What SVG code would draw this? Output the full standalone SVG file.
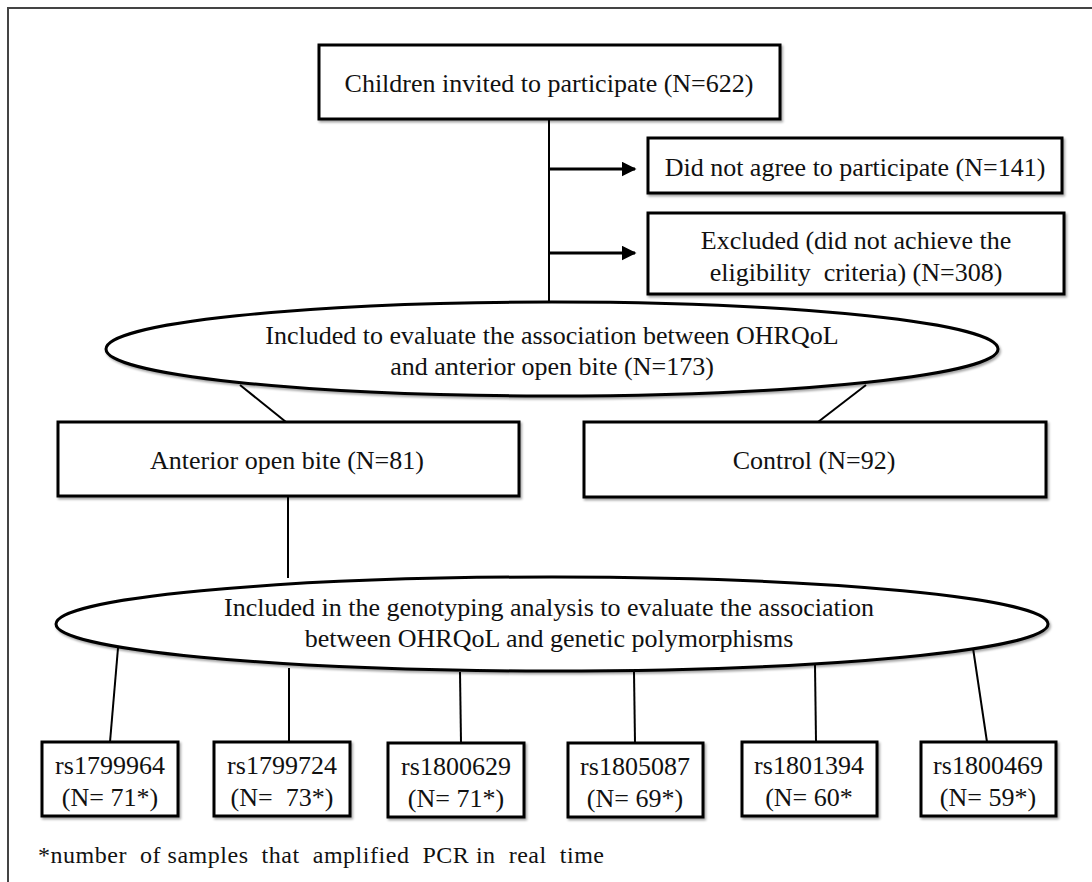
<svg xmlns="http://www.w3.org/2000/svg" width="1092" height="882" viewBox="0 0 1092 882">
<defs>
<style>
.box{fill:#fff;stroke:#000;stroke-width:3}
.ell{fill:#fff;stroke:#000;stroke-width:3}
.ln{fill:none;stroke:#000;stroke-width:2}
.t{font-family:"Liberation Serif","Times New Roman",serif;font-size:26px;fill:#111;text-anchor:middle;dominant-baseline:central;white-space:pre}
.fn{font-family:"Liberation Serif","Times New Roman",serif;font-size:24px;fill:#111;white-space:pre}
</style>
<marker id="ah" viewBox="0 0 10 10" refX="9" refY="5" markerWidth="5" markerHeight="5" orient="auto" markerUnits="strokeWidth">
<path d="M0,0 L10,5 L0,10 Z" fill="#000"/>
</marker>
<filter id="sh" x="-5%" y="-5%" width="110%" height="120%">
<feDropShadow dx="1.5" dy="2" stdDeviation="1.2" flood-color="#000" flood-opacity="0.35"/>
</filter>
</defs>
<rect x="8" y="8" width="1100" height="900" fill="#fff" stroke="#444" stroke-width="2"/>

<g id="connectors">
<line class="ln" x1="549" y1="119" x2="549" y2="302"/>
<line class="ln" x1="549" y1="169" x2="635" y2="169" marker-end="url(#ah)" style="stroke-width:3"/>
<line class="ln" x1="549" y1="253" x2="635" y2="253" marker-end="url(#ah)" style="stroke-width:3"/>
<line class="ln" x1="240" y1="385" x2="286" y2="422"/>
<line class="ln" x1="866" y1="385" x2="818" y2="422"/>
<line class="ln" x1="288" y1="496" x2="288" y2="578"/>
<line class="ln" x1="118" y1="648" x2="110" y2="742"/>
<line class="ln" x1="289" y1="668" x2="289" y2="742"/>
<line class="ln" x1="460" y1="672" x2="461" y2="743"/>
<line class="ln" x1="634" y1="672" x2="635" y2="743"/>
<line class="ln" x1="815" y1="665" x2="816" y2="742"/>
<line class="ln" x1="973" y1="648" x2="987" y2="742"/>
</g>

<g id="n-children">
<rect class="box" x="319" y="45" width="461" height="74" filter="url(#sh)"/>
<text class="t" x="549" y="83">Children invited to participate (N=622)</text>
</g>
<g id="n-notagree">
<rect class="box" x="648" y="138" width="414" height="55" filter="url(#sh)"/>
<text class="t" x="855" y="167">Did not agree to participate (N=141)</text>
</g>
<g id="n-excluded">
<rect class="box" x="648" y="213" width="416" height="81" filter="url(#sh)"/>
<text class="t" x="856" y="240">Excluded (did not achieve the</text>
<text class="t" x="856" y="272" xml:space="preserve">eligibility  criteria) (N=308)</text>
</g>
<g id="n-included1">
<ellipse class="ell" cx="552" cy="349" rx="446" ry="47" filter="url(#sh)"/>
<text class="t" x="552" y="335">Included to evaluate the association between OHRQoL</text>
<text class="t" x="552" y="366">and anterior open bite (N=173)</text>
</g>
<g id="n-aob">
<rect class="box" x="58" y="422" width="461" height="74" filter="url(#sh)"/>
<text class="t" x="287" y="460">Anterior open bite (N=81)</text>
</g>
<g id="n-control">
<rect class="box" x="584" y="422" width="462" height="75" filter="url(#sh)"/>
<text class="t" x="814" y="460">Control (N=92)</text>
</g>
<g id="n-included2">
<ellipse class="ell" cx="552" cy="624" rx="496" ry="47" filter="url(#sh)"/>
<text class="t" x="549" y="607">Included in the genotyping analysis to evaluate the association</text>
<text class="t" x="549" y="638">between OHRQoL and genetic polymorphisms</text>
</g>
<g id="n-rs1799964">
<rect class="box" x="42" y="742" width="136" height="74" filter="url(#sh)"/>
<text class="t" x="110" y="765">rs1799964</text>
<text class="t" x="110" y="797">(N= 71*)</text>
</g>
<g id="n-rs1799724">
<rect class="box" x="214" y="742" width="136" height="74" filter="url(#sh)"/>
<text class="t" x="282" y="765">rs1799724</text>
<text class="t" x="282" y="797" xml:space="preserve">(N=  73*)</text>
</g>
<g id="n-rs1800629">
<rect class="box" x="388" y="743" width="136" height="74" filter="url(#sh)"/>
<text class="t" x="456" y="766">rs1800629</text>
<text class="t" x="456" y="798">(N= 71*)</text>
</g>
<g id="n-rs1805087">
<rect class="box" x="568" y="743" width="135" height="74" filter="url(#sh)"/>
<text class="t" x="635" y="766">rs1805087</text>
<text class="t" x="635" y="798">(N= 69*)</text>
</g>
<g id="n-rs1801394">
<rect class="box" x="742" y="742" width="135" height="74" filter="url(#sh)"/>
<text class="t" x="809" y="765">rs1801394</text>
<text class="t" x="809" y="797">(N= 60*</text>
</g>
<g id="n-rs1800469">
<rect class="box" x="921" y="742" width="135" height="74" filter="url(#sh)"/>
<text class="t" x="988" y="765">rs1800469</text>
<text class="t" x="988" y="797">(N= 59*)</text>
</g>
<text class="fn" x="38" y="863" xml:space="preserve" textLength="566" lengthAdjust="spacing">*number  of samples  that  amplified  PCR in  real  time</text>
</svg>
